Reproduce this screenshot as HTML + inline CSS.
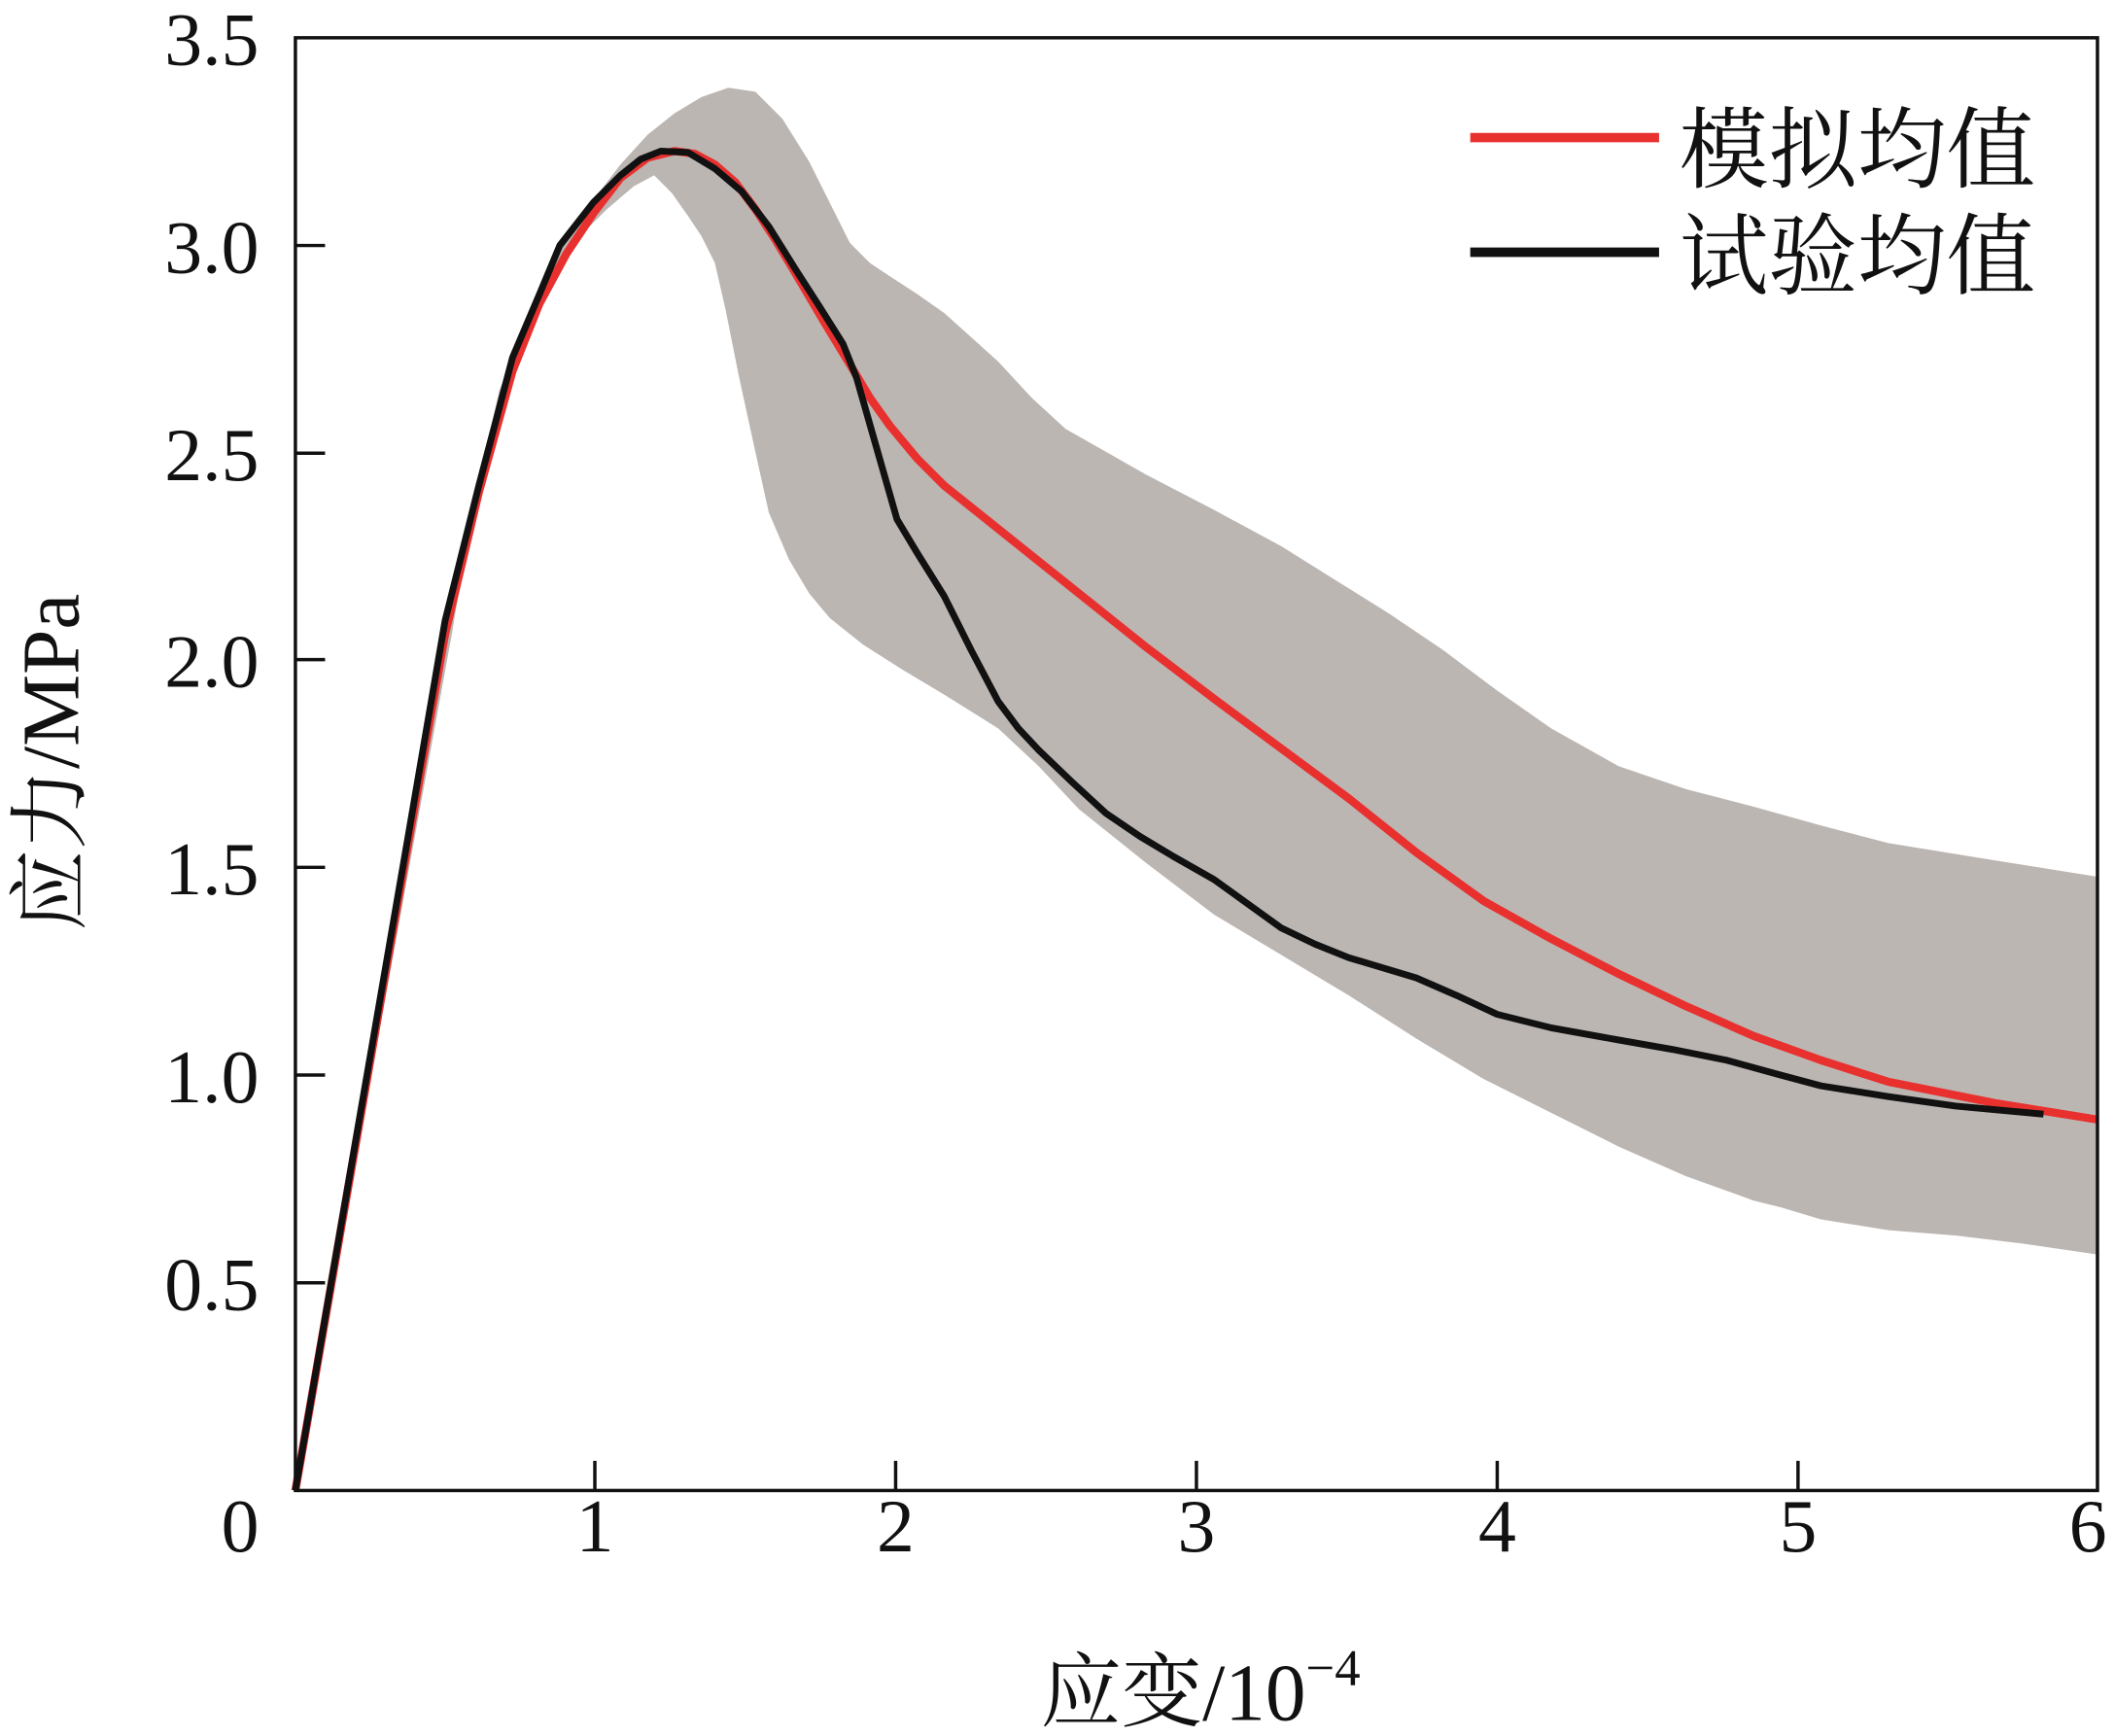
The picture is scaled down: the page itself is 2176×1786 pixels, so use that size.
<!DOCTYPE html>
<html><head><meta charset="utf-8"><style>html,body{margin:0;padding:0;background:#fff}svg{display:block}</style></head>
<body>
<svg width="2176" height="1786" viewBox="0 0 1568 1287" preserveAspectRatio="none" xmlns="http://www.w3.org/2000/svg">
<rect width="1568" height="1287" fill="#fff"/>
<path fill="#bcb6b3" d="M219,1105 L330,460 L355,360 L380,262 L400,215 L420,178 L440,148 L460,122 L480,100 L500,84 L520,72 L540,65 L560,68 L580,88 L600,120 L615,150 L630,180 L645,195 L660,205 L680,218 L700,232 L720,250 L740,268 L765,295 L790,318 L820,335 L850,352 L900,378 L950,405 L990,430 L1030,455 L1070,482 L1110,512 L1150,540 L1200,568 L1250,585 L1300,598 L1350,612 L1400,625 L1480,638 L1555,650 L1555,930 L1500,922 L1450,916 L1400,912 L1350,904 L1320,895 L1300,890 L1250,872 L1200,850 L1150,825 L1100,800 L1050,770 L1000,738 L950,708 L900,678 L850,640 L800,600 L770,568 L740,540 L700,515 L670,497 L640,478 L615,458 L600,440 L585,415 L570,380 L560,335 L548,280 L538,230 L530,195 L520,175 L510,160 L498,143 L485,130 L470,138 L450,155 L430,175 L410,205 L390,240 L370,290 L350,380 L335,470 Z"/>
<polyline fill="none" stroke="#e8312f" stroke-width="6" stroke-linejoin="round" points="219,1105 300,640 330,470 355,365 380,275 400,225 420,188 440,158 460,132 480,117 500,112 515,114 530,122 545,135 560,155 575,178 590,203 610,237 630,270 645,295 660,316 680,340 700,360 725,380 750,400 800,440 850,480 900,518 950,555 1000,592 1050,632 1100,668 1150,696 1200,722 1250,746 1300,768 1350,786 1400,802 1480,818 1555,830"/>
<polyline fill="none" stroke="#111" stroke-width="5" stroke-linejoin="round" points="219,1105 300,635 330,460 355,360 380,265 400,218 415,182 440,150 460,130 475,118 490,112 510,113 530,125 550,142 570,168 590,200 608,228 625,255 635,280 645,315 655,350 665,385 680,410 700,442 720,482 740,520 755,540 770,556 795,580 820,603 845,620 870,635 900,652 925,670 950,688 975,700 1000,710 1050,725 1080,738 1110,752 1150,762 1200,771 1240,778 1280,786 1320,797 1350,805 1400,813 1450,820 1515,826"/>
<rect x="219" y="28" width="1336" height="1077" fill="none" stroke="#111" stroke-width="2.5"/>
<g stroke="#111" stroke-width="2.5">
<line x1="441" y1="1105" x2="441" y2="1083"/><line x1="664" y1="1105" x2="664" y2="1083"/><line x1="887" y1="1105" x2="887" y2="1083"/><line x1="1110" y1="1105" x2="1110" y2="1083"/><line x1="1333" y1="1105" x2="1333" y2="1083"/>
<line x1="219" y1="951" x2="241" y2="951"/><line x1="219" y1="797" x2="241" y2="797"/><line x1="219" y1="643" x2="241" y2="643"/><line x1="219" y1="489" x2="241" y2="489"/><line x1="219" y1="336" x2="241" y2="336"/><line x1="219" y1="182" x2="241" y2="182"/>
</g>
<g font-family="Liberation Serif, serif" font-size="56" fill="#111">
<g text-anchor="end">
<text x="192" y="1150">0</text><text x="192" y="971">0.5</text><text x="192" y="817">1.0</text><text x="192" y="663">1.5</text><text x="192" y="509">2.0</text><text x="192" y="356">2.5</text><text x="192" y="202">3.0</text><text x="192" y="48">3.5</text>
</g>
<g text-anchor="middle">
<text x="441" y="1150">1</text><text x="664" y="1150">2</text><text x="887" y="1150">3</text><text x="1110" y="1150">4</text><text x="1333" y="1150">5</text><text x="1548" y="1150">6</text>
</g>
</g>
<text x="890" y="1275" text-anchor="middle" font-family="Liberation Serif, Noto Serif CJK SC, serif" font-size="60" fill="#111">应变/10<tspan font-size="38" dy="-26">−4</tspan></text>
<text transform="translate(58,565) rotate(-90)" text-anchor="middle" font-family="Liberation Serif, Noto Serif CJK SC, serif" font-size="60" fill="#111">应力/MPa</text>
<line x1="1090" y1="102" x2="1230" y2="102" stroke="#e8312f" stroke-width="7"/>
<line x1="1090" y1="187" x2="1230" y2="187" stroke="#111" stroke-width="7"/>
<g font-family="Noto Serif CJK SC, serif" font-size="66" fill="#111">
<text x="1245" y="134">模拟均值</text>
<text x="1245" y="213">试验均值</text>
</g>
</svg>
</body></html>
